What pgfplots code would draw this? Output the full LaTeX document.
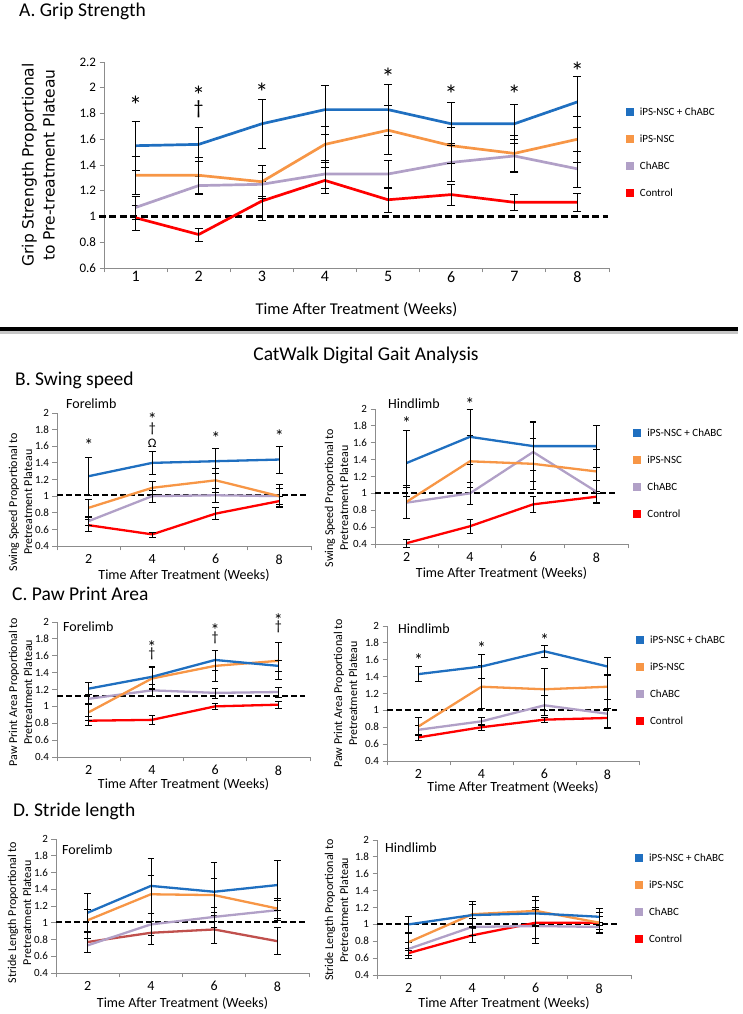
\documentclass[border=0pt]{standalone}
\usepackage{fontspec}
\setmainfont{Carlito}
\newfontfamily\dejavu{DejaVu Sans}
\usepackage{pgfplots}
\pgfplotsset{compat=1.18}
\definecolor{cBlue}{HTML}{1F6FC0}
\definecolor{cOrange}{HTML}{F79646}
\definecolor{cPurple}{HTML}{B1A0C7}
\definecolor{cRed}{HTML}{FF0000}
\definecolor{cBrick}{HTML}{C0504D}
\definecolor{axgray}{HTML}{8C8C8C}
\newcommand{\fs}[2]{\fontsize{#1pt}{#2pt}\selectfont}
\pgfplotsset{
 base/.style={scale only axis, clip=false, anchor=south west,
   axis x line*=bottom, axis y line*=left,
   axis line style={draw=axgray, line width=0.9pt, -},
   tick align=outside, major tick length=4.5pt,
   every tick/.style={draw=axgray, line width=0.9pt},
   /pgf/number format/assume math mode=true,
   xticklabels={},
   extra x tick style={major tick length=0pt},
   legend image code/.code={\fill[##1] (0pt,-3.5pt) rectangle (7pt,3.5pt);},
   legend cell align=left,
   legend style={draw=none, fill=none, inner sep=0pt, outer sep=0pt, anchor=west,
     nodes={inner sep=1pt, text height=8pt, text depth=1pt}, row sep=16pt, column sep=6pt, font=\fs{11}{13}},
 },
 ylab/.style 2 args={every axis y label/.style={at={(axis description cs:#1,#2)}, rotate=90, anchor=center, align=center, font=\fs{12}{15}}},
 xlab/.style={every axis x label/.style={at={(axis description cs:0.5,#1)}, anchor=center, font=\fs{14}{14}}},
 small/.style={base, xmin=0.5, xmax=4.5, ymin=0.4, ymax=2,
   ytick={0.4,0.6,0.8,1,1.2,1.4,1.6,1.8,2},
   xtick={0.5,1.5,2.5,3.5,4.5},
   extra x ticks={1,2,3,4}, extra x tick labels={2,4,6,8},
   yticklabel style={font=\fs{11}{11}},
   xticklabel style={font=\fs{14}{14}, yshift=-5pt},
   xlabel={Time After Treatment (Weeks)}},
 ser/.style n args={3}{color=#1, line width=#2, no marks, line join=round, forget plot,
   error bars/.cd, y dir=both, y explicit,
   error bar style={black, line width=0.6pt, solid},
   error mark options={black, rotate=90, mark size=#3, line width=0.6pt}},
 dsh/.style={black, line width=#1, dash pattern=on 6pt off 3pt, forget plot, no marks},
}
\newcommand{\st}[3]{\node[font=\fs{#3}{#3}, inner sep=0pt, yshift=-0.16*#3pt] at (axis cs:#1,#2) {*};}
\newcommand{\dg}[3]{\node[font=\fs{#3}{#3}, inner sep=0pt] at (axis cs:#1,#2) {†};}
\newcommand{\legs}{%
 \addlegendimage{color=cBlue}\addlegendentry{iPS-NSC + ChABC}
 \addlegendimage{color=cOrange}\addlegendentry{iPS-NSC}
 \addlegendimage{color=cPurple}\addlegendentry{ChABC}
 \addlegendimage{color=cRed}\addlegendentry{Control}}
\begin{document}
\begin{tikzpicture}
\useasboundingbox (0pt,0pt) rectangle (743pt,1014pt);
% titles
\node[anchor=base west, inner sep=0, font=\fs{19.5}{20}] at (19pt,997pt) {A. Grip Strength};
\node[anchor=base, inner sep=0, font=\fs{19.5}{20}] at (366pt,653pt) {CatWalk Digital Gait Analysis};
\node[anchor=base west, inner sep=0, font=\fs{19.5}{20}] at (15pt,628pt) {B. Swing speed};
\node[anchor=base west, inner sep=0, font=\fs{19.5}{20}] at (12pt,413pt) {C. Paw Print Area};
\node[anchor=base west, inner sep=0, font=\fs{19.5}{20}] at (13pt,197pt) {D. Stride length};
\node[anchor=base west, inner sep=0, font=\fs{14}{14}] at (66pt,605pt) {Forelimb};
\node[anchor=base west, inner sep=0, font=\fs{14}{14}] at (388pt,605pt) {Hindlimb};
\node[anchor=base west, inner sep=0, font=\fs{14}{14}] at (63pt,382pt) {Forelimb};
\node[anchor=base west, inner sep=0, font=\fs{14}{14}] at (398pt,380pt) {Hindlimb};
\node[anchor=base west, inner sep=0, font=\fs{14}{14}] at (62pt,159pt) {Forelimb};
\node[anchor=base west, inner sep=0, font=\fs{14}{14}] at (385pt,161pt) {Hindlimb};
% separator
\draw[gray!45, line width=3pt] (0pt,681pt) -- (738pt,681pt);
\draw[black, line width=3.5pt] (0pt,685pt) -- (738pt,685pt);

% ---------------- A ----------------
\begin{axis}[base, at={(104pt,746pt)}, width=505pt, height=206pt,
  xmin=0.5, xmax=8.5, ymin=0.6, ymax=2.2,
  ytick={0.6,0.8,1,1.2,1.4,1.6,1.8,2,2.2},
  xtick={0.5,1.5,2.5,3.5,4.5,5.5,6.5,7.5,8.5},
  extra x ticks={1,2,3,4,5,6,7,8}, extra x tick labels={1,2,3,4,5,6,7,8},
  yticklabel style={font=\fs{13}{13}}, xticklabel style={font=\fs{16}{16}},
  ylab={-0.13}{0.5}, xlab=-0.204,
  ylabel style={font=\dejavu\fs{15.5}{21}}, xlabel style={font=\fs{16.5}{16.5}},
  ylabel={Grip Strength Proportional\\to Pre-treatment Plateau},
  xlabel={Time After Treatment (Weeks)},
  legend style={at={(axis description cs:1.0327,0.561)}}]
\legs
\addplot[dsh=2.5pt, dash pattern=on 7pt off 3.5pt] coordinates {(0.42,1) (8.49,1)};
\addplot[ser={cRed}{2.7pt}{4pt}] coordinates {(1,0.99) +- (0,0.10) (2,0.86) +- (0,0.05) (3,1.12) +- (0,0.15) (4,1.28) +- (0,0.10) (5,1.13) +- (0,0.10) (6,1.17) +- (0,0.08) (7,1.11) +- (0,0.06) (8,1.11) +- (0,0.07)};
\addplot[ser={cPurple}{2.7pt}{4pt}] coordinates {(1,1.07) +- (0,0.09) (2,1.24) +- (0,0.07) (3,1.25) +- (0,0.09) (4,1.33) +- (0,0.11) (5,1.33) +- (0,0.11) (6,1.42) +- (0,0.15) (7,1.47) +- (0,0.13) (8,1.37) +- (0,0.14)};
\addplot[ser={cOrange}{2.7pt}{4pt}] coordinates {(1,1.32) +- (0,0.15) (2,1.32) +- (0,0.14) (3,1.27) +- (0,0.13) (4,1.56) +- (0,0.14) (5,1.67) +- (0,0.19) (6,1.55) +- (0,0.14) (7,1.49) +- (0,0.14) (8,1.60) +- (0,0.18)};
\addplot[ser={cBlue}{2.7pt}{4pt}] coordinates {(1,1.55) +- (0,0.19) (2,1.56) +- (0,0.13) (3,1.72) +- (0,0.19) (4,1.83) +- (0,0.19) (5,1.83) +- (0,0.20) (6,1.72) +- (0,0.17) (7,1.72) +- (0,0.15) (8,1.89) +- (0,0.20)};
\st{1}{1.90}{26}\st{2}{1.97}{26}\dg{2}{1.83}{20}\st{3}{2.0}{26}\st{5}{2.11}{26}\st{6}{1.98}{26}\st{7}{1.98}{26}\st{8}{2.16}{26}
\end{axis}

% ---------------- B left ----------------
\begin{axis}[small, at={(57pt,468pt)}, width=254pt, height=133pt, ylab={-0.144}{0.33}, xlab=-0.218,
  ylabel={Swing Speed Proportional to\\Pretreatment Plateau}]
\addplot[dsh=2pt] coordinates {(0.5,1.01) (4.42,1.01)};
\addplot[ser={cRed}{2.3pt}{3.3pt}] coordinates {(1,0.65) +- (0,0.07) (2,0.54) +- (0,0.03) (3,0.79) +- (0,0.07) (4,0.94) +- (0,0.06)};
\addplot[ser={cPurple}{2.3pt}{3.3pt}] coordinates {(1,0.70) +- (0,0.05) (2,1.00) +- (0,0.07) (3,1.01) +- (0,0.08) (4,1.00) +- (0,0.10)};
\addplot[ser={cOrange}{2.3pt}{3.3pt}] coordinates {(1,0.86) +- (0,0.10) (2,1.10) +- (0,0.08) (3,1.19) +- (0,0.15) (4,1.00) +- (0,0.14)};
\addplot[ser={cBlue}{2.3pt}{3.3pt}] coordinates {(1,1.24) +- (0,0.23) (2,1.40) +- (0,0.14) (3,1.42) +- (0,0.15) (4,1.44) +- (0,0.16)};
\st{1}{1.65}{18}\st{2}{1.96}{18}\dg{2}{1.81}{14}
\node[font=\fs{13}{13}, inner sep=0pt] at (axis cs:2,1.64) {Ω};
\st{3}{1.73}{18}\st{4}{1.76}{18}
\end{axis}

% ---------------- B right ----------------
\begin{axis}[small, at={(375pt,470pt)}, width=253pt, height=135pt, ylab={-0.152}{0.34}, xlab=-0.215,
  ylabel={Swing Speed Proportional to\\Pretreatment Plateau},
  legend style={at={(axis description cs:1.0198,0.522)}}]
\legs
\addplot[dsh=2pt] coordinates {(0.5,1) (4.31,1)};
\addplot[ser={cRed}{2.3pt}{3.3pt}] coordinates {(1,0.41) +- (0,0.05) (2,0.61) +- (0,0.08) (3,0.87) +- (0,0.09) (4,0.96) +- (0,0.07)};
\addplot[ser={cPurple}{2.3pt}{3.3pt}] coordinates {(1,0.89) +- (0,0.18) (2,1.00) +- (0,0.13) (3,1.49) +- (0,0.35) (4,1.02) +- (0,0.14)};
\addplot[ser={cOrange}{2.3pt}{3.3pt}] coordinates {(1,0.90) +- (0,0.20) (2,1.38) +- (0,0.31) (3,1.35) +- (0,0.30) (4,1.26) +- (0,0.26)};
\addplot[ser={cBlue}{2.3pt}{3.3pt}] coordinates {(1,1.36) +- (0,0.39) (2,1.67) +- (0,0.33) (3,1.56) +- (0,0.29) (4,1.56) +- (0,0.25)};
\st{1}{1.87}{18}\st{2}{2.09}{18}
\end{axis}

% ---------------- C left ----------------
\begin{axis}[small, at={(57pt,257pt)}, width=253pt, height=135pt, ylab={-0.144}{0.48}, xlab=-0.2,
  ylabel={Paw Print Area Proportional to\\Pretreatment Plateau}]
\addplot[dsh=2pt] coordinates {(0.5,1.12) (4.42,1.12)};
\addplot[ser={cRed}{2.3pt}{3.3pt}] coordinates {(1,0.83) +- (0,0.05) (2,0.84) +- (0,0.05) (3,1.00) +- (0,0.04) (4,1.02) +- (0,0.04)};
\addplot[ser={cPurple}{2.3pt}{3.3pt}] coordinates {(1,1.09) +- (0,0.05) (2,1.19) +- (0,0.07) (3,1.16) +- (0,0.06) (4,1.17) +- (0,0.06)};
\addplot[ser={cOrange}{2.3pt}{3.3pt}] coordinates {(1,0.93) +- (0,0.10) (2,1.33) +- (0,0.13) (3,1.48) +- (0,0.18) (4,1.54) +- (0,0.22)};
\addplot[ser={cBlue}{2.3pt}{3.3pt}] coordinates {(1,1.21) +- (0,0.07) (2,1.35) +- (0,0.13) (3,1.55) +- (0,0.12) (4,1.48) +- (0,0.07)};
\st{2}{1.74}{18}\dg{2}{1.62}{14}\st{3}{1.94}{18}\dg{3}{1.81}{14}\st{4}{2.06}{18}\dg{4}{1.94}{14}
\end{axis}

% ---------------- C right ----------------
\begin{axis}[small, at={(387pt,253pt)}, width=252pt, height=135pt, ylab={-0.165}{0.5}, xlab=-0.193,
  ylabel={Paw Print Area Proportional to\\Pretreatment Plateau},
  legend style={at={(axis description cs:0.987,0.596)}}]
\legs
\addplot[dsh=2pt] coordinates {(0.5,1) (4.15,1)};
\addplot[ser={cRed}{2.3pt}{3.3pt}] coordinates {(1,0.68) +- (0,0.04) (2,0.80) +- (0,0.04) (3,0.89) +- (0,0.03) (4,0.91) +- (0,0.11)};
\addplot[ser={cPurple}{2.3pt}{3.3pt}] coordinates {(1,0.77) +- (0,0.05) (2,0.87) +- (0,0.05) (3,1.06) +- (0,0.12) (4,0.96) +- (0,0.17)};
\addplot[ser={cOrange}{2.3pt}{3.3pt}] coordinates {(1,0.81) +- (0,0.11) (2,1.28) +- (0,0.25) (3,1.25) +- (0,0.25) (4,1.28) +- (0,0.15)};
\addplot[ser={cBlue}{2.3pt}{3.3pt}] coordinates {(1,1.43) +- (0,0.09) (2,1.52) +- (0,0.14) (3,1.70) +- (0,0.07) (4,1.52) +- (0,0.11)};
\st{1}{1.63}{18}\st{2}{1.77}{18}\st{3}{1.87}{18}
\end{axis}

% ---------------- D left ----------------
\begin{axis}[small, at={(56pt,41pt)}, width=253pt, height=134pt, ylab={-0.144}{0.45}, xlab=-0.224,
  ylabel={Stride Length Proportional to\\Pretreatment Plateau}]
\addplot[dsh=2pt] coordinates {(0.5,1.01) (4.44,1.01)};
\addplot[ser={cBrick}{2.3pt}{3.3pt}] coordinates {(1,0.77) +- (0,0.12) (2,0.88) +- (0,0.14) (3,0.92) +- (0,0.17) (4,0.78) +- (0,0.16)};
\addplot[ser={cPurple}{2.3pt}{3.3pt}] coordinates {(1,0.73) +- (0,0.08) (2,0.98) +- (0,0.13) (3,1.07) +- (0,0.12) (4,1.15) +- (0,0.12)};
\addplot[ser={cOrange}{2.3pt}{3.3pt}] coordinates {(1,1.03) +- (0,0.13) (2,1.34) +- (0,0.23) (3,1.33) +- (0,0.20) (4,1.17) +- (0,0.12)};
\addplot[ser={cBlue}{2.3pt}{3.3pt}] coordinates {(1,1.12) +- (0,0.23) (2,1.44) +- (0,0.33) (3,1.37) +- (0,0.35) (4,1.45) +- (0,0.30)};
\end{axis}

% ---------------- D right ----------------
\begin{axis}[small, at={(377pt,39pt)}, width=254pt, height=135pt, ylab={-0.159}{0.48}, xlab=-0.207,
  ylabel={Stride Length Proportional to\\Pretreatment Plateau},
  legend style={at={(axis description cs:1.0146,0.567)}}]
\legs
\addplot[dsh=2pt] coordinates {(0.5,1) (4.28,1)};
\addplot[ser={cRed}{2.3pt}{3.3pt}] coordinates {(1,0.66) +- (0,0.06) (2,0.87) +- (0,0.08) (3,1.02) +- (0,0.18) (4,1.02) +- (0,0.12)};
\addplot[ser={cPurple}{2.3pt}{3.3pt}] coordinates {(1,0.71) +- (0,0.08) (2,0.97) +- (0,0.10) (3,0.98) +- (0,0.20) (4,0.97) +- (0,0.06)};
\addplot[ser={cOrange}{2.3pt}{3.3pt}] coordinates {(1,0.79) +- (0,0.10) (2,1.12) +- (0,0.15) (3,1.16) +- (0,0.17) (4,1.02) +- (0,0.08)};
\addplot[ser={cBlue}{2.3pt}{3.3pt}] coordinates {(1,1.00) +- (0,0.09) (2,1.11) +- (0,0.13) (3,1.13) +- (0,0.15) (4,1.09) +- (0,0.10)};
\end{axis}
\end{tikzpicture}
\end{document}
